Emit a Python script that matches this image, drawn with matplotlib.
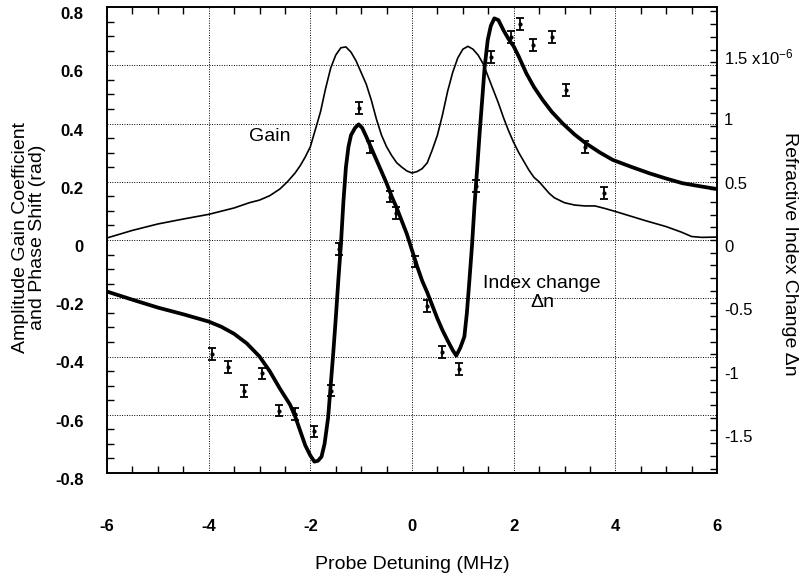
import numpy as np
import matplotlib
matplotlib.use("Agg")
import matplotlib.pyplot as plt
from matplotlib.ticker import MultipleLocator, FixedLocator
import matplotlib.transforms as mtransforms

plt.rcParams['font.family'] = ['Liberation Sans', 'DejaVu Sans']
plt.rcParams['mathtext.default'] = 'regular'

# ---- data ----
gain_x = [-6.0, -5.5, -5.0, -4.5, -4.0, -3.5, -3.2, -3.0, -2.8, -2.6, -2.45, -2.3, -2.2, -2.1,
          -2.0, -1.9, -1.8, -1.7, -1.6, -1.5, -1.4, -1.3, -1.2, -1.1, -1.0, -0.9, -0.8, -0.7,
          -0.6, -0.5, -0.4, -0.3, -0.2, -0.1, 0.0, 0.1, 0.2, 0.3, 0.4, 0.5, 0.6, 0.7, 0.8, 0.9,
          1.0, 1.1, 1.2, 1.3, 1.4, 1.5, 1.6, 1.7, 1.8, 1.9, 2.0, 2.1, 2.2, 2.3, 2.4, 2.5, 2.6,
          2.7, 2.8, 3.0, 3.2, 3.4, 3.6, 3.8, 4.0, 4.3, 4.6, 5.0, 5.3, 5.5, 5.7, 6.0]
gain_y = [0.007, 0.033, 0.055, 0.072, 0.088, 0.11, 0.128, 0.137, 0.152, 0.175, 0.20, 0.23, 0.255, 0.285,
          0.32, 0.38, 0.44, 0.52, 0.59, 0.635, 0.66, 0.663, 0.645, 0.615, 0.575, 0.535, 0.48, 0.415,
          0.36, 0.32, 0.29, 0.265, 0.25, 0.237, 0.23, 0.235, 0.245, 0.265, 0.31, 0.36, 0.43, 0.51, 0.575, 0.625,
          0.655, 0.665, 0.655, 0.635, 0.605, 0.56, 0.515, 0.47, 0.42, 0.375, 0.335, 0.30, 0.27, 0.24, 0.215, 0.20, 0.18,
          0.16, 0.145, 0.128, 0.12, 0.117, 0.117, 0.108, 0.098, 0.082, 0.066, 0.046, 0.027, 0.012, 0.009, 0.01]

index_x = [-6.0, -5.5, -5.0, -4.5, -4.0, -3.75, -3.5, -3.25, -3.0, -2.8, -2.6, -2.4, -2.3, -2.2,
           -2.1, -2.0, -1.92, -1.85, -1.78, -1.72, -1.65, -1.6, -1.55, -1.5, -1.45, -1.4, -1.35,
           -1.3, -1.25, -1.2, -1.12, -1.05, -0.98, -0.9, -0.8, -0.7, -0.6, -0.5, -0.4, -0.3, -0.2,
           -0.1, 0.0, 0.1, 0.2, 0.3, 0.4, 0.5, 0.6, 0.7, 0.8, 0.87, 0.95, 1.03, 1.08, 1.13, 1.18,
           1.23, 1.28, 1.33, 1.38, 1.43, 1.49, 1.55, 1.62, 1.70, 1.8, 1.9, 2.0, 2.1, 2.25, 2.4,
           2.57, 2.75, 2.965, 3.2, 3.42, 3.7, 3.95, 4.3, 4.67, 5.0, 5.32, 5.65, 6.0]
index_y = [-0.177, -0.205, -0.232, -0.255, -0.28, -0.298, -0.322, -0.355, -0.40, -0.45, -0.51, -0.565, -0.605, -0.655,
           -0.705, -0.74, -0.761, -0.758, -0.744, -0.70, -0.61, -0.50, -0.39, -0.27, -0.14, -0.02, 0.13,
           0.25, 0.32, 0.36, 0.385, 0.397, 0.385, 0.355, 0.315, 0.275, 0.235, 0.195, 0.15, 0.11, 0.065,
           0.02, -0.035, -0.09, -0.14, -0.18, -0.225, -0.27, -0.31, -0.345, -0.378, -0.397, -0.37, -0.332, -0.25, -0.137, -0.02,
           0.12, 0.24, 0.366, 0.48, 0.595, 0.687, 0.735, 0.761, 0.755, 0.72, 0.69, 0.665, 0.63, 0.572, 0.525,
           0.481, 0.44, 0.40, 0.362, 0.332, 0.30, 0.275, 0.252, 0.229, 0.211, 0.195, 0.185, 0.175]

meas_x = [-3.94, -3.62, -3.31, -2.955, -2.615, -2.293, -1.927, -1.599, -1.43, -1.05, -0.833,
          -0.44, -0.31, 0.065, 0.30, 0.595, 0.915, 1.25, 1.557, 1.95, 2.128, 2.375, 2.756,
          3.03, 3.41, 3.77]
meas_y = [-0.391, -0.435, -0.518, -0.458, -0.586, -0.597, -0.657, -0.517, -0.03, 0.454, 0.32,
          0.149, 0.092, -0.074, -0.227, -0.384, -0.444, 0.185, 0.629, 0.696, 0.742, 0.670, 0.696,
          0.515, 0.32, 0.162]
meas_err = 0.02

x_ticks = [-6, -4, -2, 0, 2, 4, 6]
left_ticks = [-0.8, -0.6, -0.4, -0.2, 0, 0.2, 0.4, 0.6, 0.8]
left_labels = ['-0.8', '-0.6', '-0.4', '-0.2', '0', '0.2', '0.4', '0.6', '0.8']
right_ticks = [-1.5, -1.0, -0.5, 0, 0.5, 1.0, 1.5]
right_labels = ['-1.5', '-1', '-0.5', '0', '0.5', '1', '1.5 x10$^{-6}$']

# ---- figure ----
fig = plt.figure(figsize=(8.09, 5.74), dpi=100)
ax = fig.add_axes([107/809, 1-473/574, (717-107)/809, (473-7)/574])

ax.plot(gain_x, gain_y, color='black', lw=1.2, solid_joinstyle='round')
ax.plot(index_x, index_y, color='black', lw=2.7, solid_joinstyle='round')
ax.errorbar(meas_x, meas_y, yerr=meas_err, fmt='o', ms=2, color='black',
            ecolor='black', elinewidth=1.3, capsize=3.0, capthick=1.3)

ax.set_xlim(-6, 6)
ax.set_ylim(-0.8, 0.8)
ax.xaxis.set_major_locator(FixedLocator(x_ticks))
ax.xaxis.set_minor_locator(MultipleLocator(0.5))
ax.yaxis.set_major_locator(FixedLocator(left_ticks))
ax.set_yticklabels(left_labels)
ax.yaxis.set_minor_locator(MultipleLocator(0.05))
ax.set_xticklabels([str(v) for v in x_ticks])

ax.grid(True, which='major', color='black', linestyle=(0, (1, 1.5)), lw=0.7)
ax.tick_params(which='both', direction='in', top=True, right=False, width=1.0)
ax.tick_params(which='major', length=0)
ax.tick_params(which='minor', length=5)
ax.tick_params(axis='x', which='major', pad=33, labelsize=12)
ax.tick_params(axis='y', which='major', pad=17, labelsize=12)
for lab in ax.get_xticklabels() + ax.get_yticklabels():
    lab.set_fontweight('bold')
for s in ax.spines.values():
    s.set_linewidth(1.2)

ax.set_xlabel('Probe Detuning (MHz)', fontsize=14, labelpad=16)
ax.set_ylabel('Amplitude Gain Coefficient\nand Phase Shift (rad)', fontsize=14,
              linespacing=0.95, ha='center', va='center')
ax.yaxis.set_label_coords(-0.128, 0.506)

ax.text(-2.80, 0.354, 'Gain', fontsize=14, ha='center', va='center')
ax.text(2.56, -0.148, 'Index change', fontsize=14, ha='center', va='center')
ax.text(2.56, -0.216, '\u0394n', fontsize=14, ha='center', va='center')

ax2 = ax.twinx()
ax2.set_ylim(-1.835, 1.835)
ax2.yaxis.set_major_locator(FixedLocator(right_ticks))
ax2.set_yticklabels(right_labels)
ax2.yaxis.set_minor_locator(MultipleLocator(0.1))
ax2.tick_params(which='both', direction='in', width=1.0, labelsize=12, pad=5)
ax2.tick_params(which='major', length=5)
ax2.tick_params(which='minor', length=5)
ax2.set_ylabel('Refractive Index Change \u0394n', fontsize=14, rotation=270,
               ha='center', va='center')
ax2.yaxis.set_label_coords(1.1195, 0.471)
for s in ax2.spines.values():
    s.set_linewidth(1.2)

# y tick labels sit slightly below their ticks, as in the original
off = mtransforms.ScaledTranslation(0, -0.06, fig.dpi_scale_trans)
for t in ax.yaxis.get_major_ticks():
    t.label1.set_transform(t.label1.get_transform() + off)
for t in ax2.yaxis.get_major_ticks():
    t.label2.set_transform(t.label2.get_transform() + off)

fig.savefig('out.png', dpi=100)
